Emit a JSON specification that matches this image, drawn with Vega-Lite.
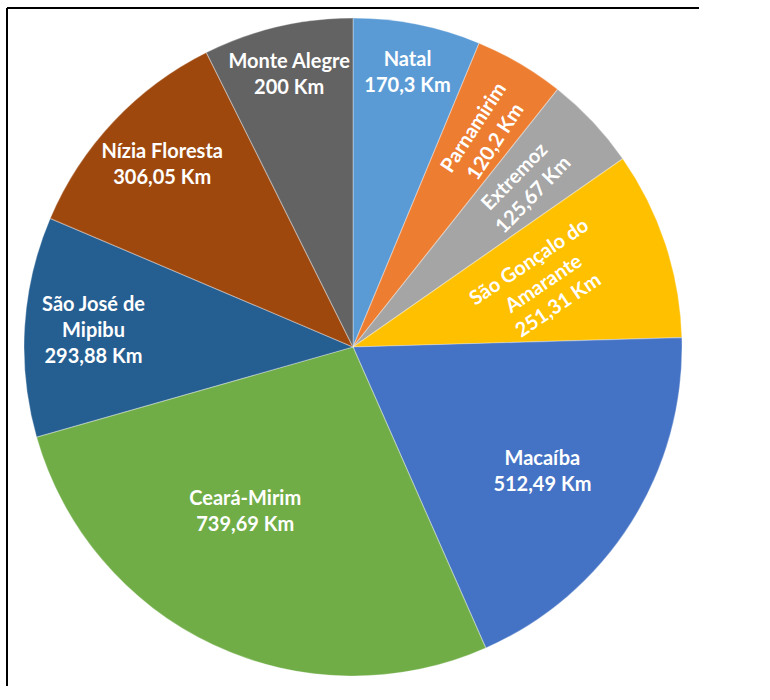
{
  "$schema": "https://vega.github.io/schema/vega-lite/v6.json",
  "width": 692,
  "height": 678,
  "autosize": {"type": "none"},
  "padding": {"left": 7, "top": 8, "right": 71, "bottom": 14},
  "background": "#ffffff",
  "view": {"stroke": "#000000", "strokeWidth": 2, "strokeDash": [692, 1370, 678, 0]},
  "config": {
    "text": {"font": "Lato", "fontSize": 20, "fontWeight": "bold", "fill": "#ffffff", "lineHeight": 26, "lineBreak": "\n", "align": "center", "baseline": "middle"}
  },
  "data": {
    "values": [
      {"city": "Natal", "km": 170.3, "label": "Natal\n170,3 Km"},
      {"city": "Parnamirim", "km": 120.2, "label": "Parnamirim\n120,2 Km"},
      {"city": "Extremoz", "km": 125.67, "label": "Extremoz\n125,67 Km"},
      {"city": "São Gonçalo do Amarante", "km": 251.31, "label": "São Gonçalo do\nAmarante\n251,31 Km"},
      {"city": "Macaíba", "km": 512.49, "label": "Macaíba\n512,49 Km"},
      {"city": "Ceará-Mirim", "km": 739.69, "label": "Ceará-Mirim\n739,69 Km"},
      {"city": "São José de Mipibu", "km": 293.88, "label": "São José de\nMipibu\n293,88 Km"},
      {"city": "Nízia Floresta", "km": 306.05, "label": "Nízia Floresta\n306,05 Km"},
      {"city": "Monte Alegre", "km": 200, "label": "Monte Alegre\n200 Km"}
    ]
  },
  "transform": [{"window": [{"op": "row_number", "as": "idx"}]}],
  "encoding": {
    "theta": {"field": "km", "type": "quantitative", "stack": true},
    "order": {"field": "idx", "type": "quantitative", "sort": "ascending"}
  },
  "layer": [
    {
      "mark": {"type": "arc", "radius": 329, "stroke": "#ffffff", "strokeOpacity": 0.3, "strokeWidth": 1.2},
      "encoding": {
        "color": {
          "field": "city",
          "type": "nominal",
          "legend": null,
          "scale": {
            "domain": ["Natal", "Parnamirim", "Extremoz", "São Gonçalo do Amarante", "Macaíba", "Ceará-Mirim", "São José de Mipibu", "Nízia Floresta", "Monte Alegre"],
            "range": ["#5B9BD5", "#ED7D31", "#A5A5A5", "#FFC000", "#4472C4", "#70AD47", "#255E91", "#9E480E", "#636363"]
          }
        }
      }
    },
    {
      "mark": {"type": "text", "radius": 279, "dy": -13},
      "encoding": {"text": {"condition": {"test": "datum.city === 'Natal' || datum.city === 'Monte Alegre'", "field": "label"}, "value": ""}}
    },
    {
      "mark": {"type": "text", "radius": 262, "dy": -15},
      "encoding": {"text": {"condition": {"test": "datum.city === 'Nízia Floresta'", "field": "label"}, "value": ""}}
    },
    {
      "mark": {"type": "text", "radius": 260, "dy": -26},
      "encoding": {"text": {"condition": {"test": "datum.city === 'São José de Mipibu'", "field": "label"}, "value": ""}}
    },
    {
      "mark": {"type": "text", "radius": 224, "dy": -8},
      "encoding": {"text": {"condition": {"test": "datum.city === 'Macaíba'", "field": "label"}, "value": ""}}
    },
    {
      "mark": {"type": "text", "radius": 197, "thetaOffset": 0.14, "dy": -13},
      "encoding": {"text": {"condition": {"test": "datum.city === 'Ceará-Mirim'", "field": "label"}, "value": ""}}
    },
    {
      "mark": {"type": "text", "radius": 250, "angle": 303, "dy": -7},
      "encoding": {"text": {"condition": {"test": "datum.city === 'Parnamirim'", "field": "label"}, "value": ""}}
    },
    {
      "mark": {"type": "text", "radius": 235, "angle": 314, "dy": -13},
      "encoding": {"text": {"condition": {"test": "datum.city === 'Extremoz'", "field": "label"}, "value": ""}}
    },
    {
      "mark": {"type": "text", "radius": 201, "angle": 326, "dy": -26},
      "encoding": {"text": {"condition": {"test": "datum.city === 'São Gonçalo do Amarante'", "field": "label"}, "value": ""}}
    }
  ]
}
